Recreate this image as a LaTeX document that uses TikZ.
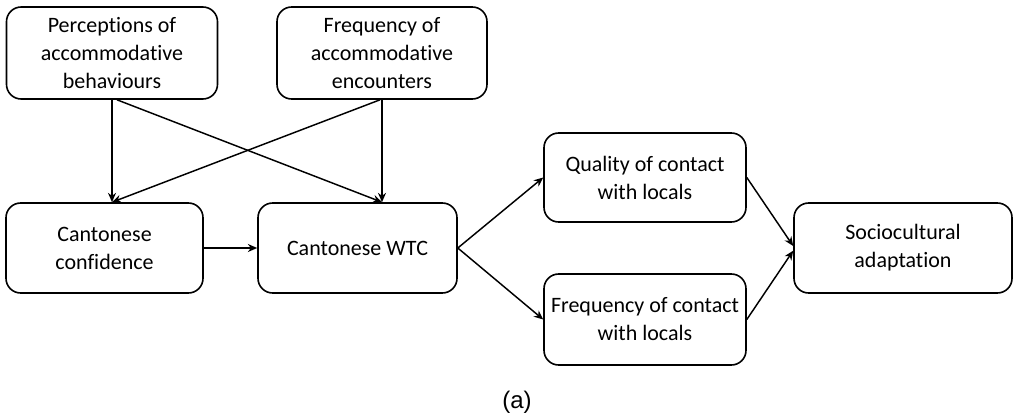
\documentclass[tikz,border=0pt]{standalone}
\usepackage{fontspec}
\setmainfont[Ligatures=NoCommon]{Carlito}
\newfontfamily\capfont{Liberation Sans}
\usetikzlibrary{arrows.meta}
\begin{document}
\begin{tikzpicture}[x=0.75pt,y=-0.75pt,
  box/.style={draw,line width=1.2pt,rounded corners=11pt,inner sep=0pt,align=center,
    font=\fontsize{16.5}{21}\selectfont},
  arr/.style={line width=1.1pt,-{Stealth[length=7pt,width=6pt]}}]
\useasboundingbox (0,0) rectangle (1017,418);
\node[box,minimum width=158.25pt,minimum height=69pt] (b1) at (112,53) {Perceptions of\\accommodative\\behaviours};
\node[box,minimum width=157.5pt,minimum height=69pt] (b2) at (382,53) {Frequency of\\accommodative\\encounters};
\node[box,minimum width=147.75pt,minimum height=67.5pt] (b3) at (104.5,248) {Cantonese\\confidence};
\node[box,minimum width=149.25pt,minimum height=67.5pt] (b4) at (357.5,248) {Cantonese WTC};
\node[box,minimum width=151.5pt,minimum height=66.75pt] (b5) at (645,177.5) {Quality of contact\\with locals};
\node[box,minimum width=151.5pt,minimum height=68.25pt] (b6) at (645,319.5) {Frequency of contact\\with locals};
\node[box,minimum width=163.5pt,minimum height=67.5pt] (b7) at (903,248) {Sociocultural\\adaptation};
\node[font=\capfont\fontsize{18}{20}\selectfont] (cap) at (517,402) {(a)};
\draw[arr] (b1.south) -- (b1.south |- b3.north);
\draw[arr] ([xshift=3.75pt]b1.south) -- (b2.south |- b4.north);
\draw[arr] (b2.south) -- (b2.south |- b4.north);
\draw[arr] ([xshift=-1.5pt]b2.south) -- (b1.south |- b3.north);
\draw[arr] (b3.east) -- (b4.west);
\draw[arr] (b4.east) -- (b5.west);
\draw[arr] (b4.east) -- (b6.west);
\draw[arr] (b5.east) -- ([yshift=1.5pt]b7.west);
\draw[arr] (b6.east) -- ([yshift=-2pt]b7.west);
\end{tikzpicture}
\end{document}
